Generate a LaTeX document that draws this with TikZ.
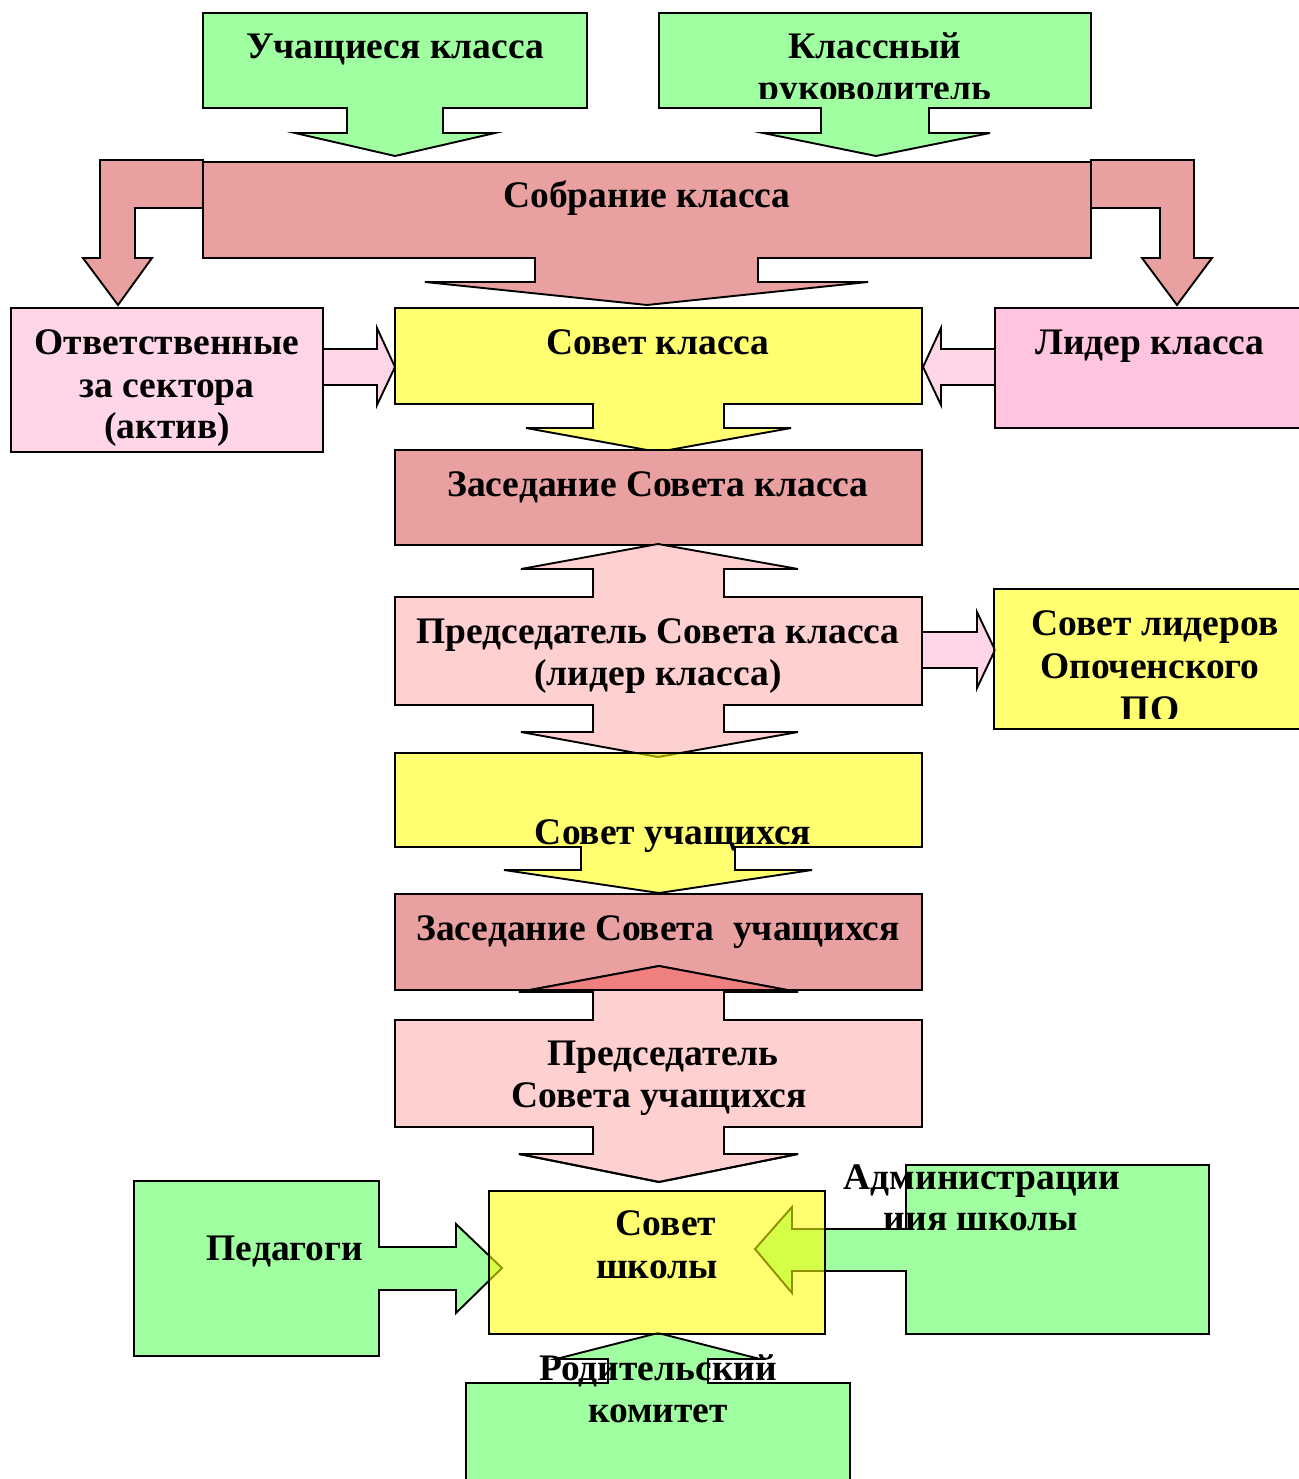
\documentclass[tikz,border=0pt]{standalone}
\usepackage{fontspec}
\setmainfont{Liberation Serif}
\definecolor{cgreen}{RGB}{160,255,160}
\definecolor{cred}{RGB}{233,160,160}
\definecolor{cpink}{RGB}{255,208,208}
\definecolor{clpink}{RGB}{255,214,232}
\definecolor{cmag}{RGB}{255,196,224}
\definecolor{cyel}{RGB}{255,255,0}
\definecolor{cover}{RGB}{240,128,128}
\tikzset{
  shp/.style={draw=black, line width=1.9pt, line join=miter},
  gbox/.style={shp, fill=cgreen},
  rbox/.style={shp, fill=cred},
  pbox/.style={shp, fill=cpink},
  lpbox/.style={shp, fill=clpink},
  mbox/.style={shp, fill=cmag},
  ybox/.style={shp, fill=cyel, fill opacity=0.56},
  txt/.style={anchor=base, inner sep=0pt, font=\bfseries\fontsize{37.5}{42}\selectfont}
}
\begin{document}
\begin{tikzpicture}[x=1pt,y=-1pt]
\useasboundingbox (0,0) rectangle (1298,1479);

% --- top: students and class teacher
\path[gbox] (203,13) -- (587,13) -- (587,108) -- (443,108) -- (443,133) -- (495,133) -- (395,156) -- (295,133) -- (347,133) -- (347,108) -- (203,108) -- cycle;
\path[gbox] (659,13) -- (1091,13) -- (1091,108) -- (929,108) -- (929,133) -- (990,133) -- (876,156) -- (763,133) -- (821,133) -- (821,108) -- (659,108) -- cycle;
\node[txt] (uch) at (395,59) {Учащиеся класса};
\node[txt] (kl1) at (875,59) {Классный};
\begin{scope}
  \clip (659,13) rectangle (1091,98.5);
  \node[txt] (kl2) at (875,101) {руководитель};
\end{scope}

% --- class meeting with bent arrows
\path[rbox] (203,160) -- (100,160) -- (100,258) -- (83,258) -- (118,305) -- (152,258) -- (135,258) -- (135,208) -- (203,208) -- cycle;
\path[rbox] (1091,160) -- (1194,160) -- (1194,258) -- (1212,258) -- (1177,305) -- (1142,258) -- (1160,258) -- (1160,208) -- (1091,208) -- cycle;
\path[rbox] (203,162) -- (1091,162) -- (1091,258) -- (758,258) -- (758,282) -- (868,282) -- (647,305) -- (425,282) -- (535,282) -- (535,258) -- (203,258) -- cycle;
\node[txt] (sobr) at (647,208) {Собрание класса};

% --- class council row
\path[lpbox] (323,349) -- (377,349) -- (377,328) -- (395,367) -- (377,405) -- (377,385) -- (323,385) -- cycle;
\path[lpbox] (11,308) rectangle (323,452);
\node[txt] (otv1) at (167,354) {Ответственные};
\node[txt] (otv2) at (167,397) {за сектора};
\node[txt] (otv3) at (167,438) {(актив)};

\path[lpbox] (995,349) -- (941,349) -- (941,328) -- (923,367) -- (941,405) -- (941,385) -- (995,385) -- cycle;
\path[mbox] (1305,308) -- (995,308) -- (995,428) -- (1305,428);
\node[txt] (lid) at (1150,354) {Лидер класса};

\path[ybox] (395,308) -- (922,308) -- (922,404) -- (724,404) -- (724,428) -- (791,428) -- (658,452) -- (526,428) -- (593,428) -- (593,404) -- (395,404) -- cycle;
\node[txt] (sovk) at (658,354) {Совет класса};

% --- class council meeting
\path[rbox] (395,450) rectangle (922,545);
\node[txt] (zask) at (658,496) {Заседание Совета класса};

% --- chairman of class council
\path[lpbox] (922,632) -- (977,632) -- (977,612) -- (995,650) -- (977,688) -- (977,668) -- (922,668) -- cycle;
\path[pbox] (395,597) -- (593,597) -- (593,569) -- (521,569) -- (658,544) -- (798,569) -- (724,569) -- (724,597) -- (922,597) -- (922,705) -- (724,705) -- (724,732) -- (798,732) -- (658,757) -- (521,732) -- (593,732) -- (593,705) -- (395,705) -- cycle;
\node[txt] (prk1) at (658,643) {Председатель Совета класса};
\node[txt] (prk2) at (658,685) {(лидер класса)};

\path[ybox] (1305,589) -- (994,589) -- (994,729) -- (1305,729);
\node[txt] (sl1) at (1155,635) {Совет лидеров};
\node[txt] (sl2) at (1150,678) {Опоченского};
\begin{scope}
  \clip (994,589) rectangle (1298,718);
  \node[txt] (sl3) at (1150,721) {ПО};
\end{scope}

% --- students' council
\path[ybox] (395,753) -- (922,753) -- (922,847) -- (735,847) -- (735,870) -- (812,870) -- (659,893) -- (504,870) -- (581,870) -- (581,847) -- (395,847) -- cycle;
\node[txt] (sovu) at (673,844) {Совет учащихся};

\path[rbox] (395,894) rectangle (922,990);
\node[txt] (zasu) at (658,940) {Заседание Совета\ \ учащихся};

\def\pru{(395,1020) -- (593,1020) -- (593,992) -- (519,992) -- (659,966) -- (798,992) -- (724,992) -- (724,1020) -- (922,1020) -- (922,1127) -- (724,1127) -- (724,1154) -- (798,1154) -- (659,1182) -- (519,1154) -- (593,1154) -- (593,1127) -- (395,1127) -- cycle}
\path[pbox] \pru;
\begin{scope}
  \clip (395,894) rectangle (922,990);
  \fill[cover] \pru;
\end{scope}
\draw[shp] \pru;
\draw[shp] (395,894) rectangle (922,990);
\node[txt] (pru1) at (663,1065) {Председатель};
\node[txt] (pru2) at (659,1107) {Совета учащихся};

% --- school council
\path[gbox] (134,1181) -- (379,1181) -- (379,1247) -- (456,1247) -- (456,1224) -- (502,1268) -- (456,1313) -- (456,1290) -- (379,1290) -- (379,1356) -- (134,1356) -- cycle;
\path[gbox] (906,1165) -- (1209,1165) -- (1209,1334) -- (906,1334) -- (906,1271) -- (792,1271) -- (792,1293) -- (755,1249) -- (792,1207) -- (792,1229) -- (906,1229) -- cycle;
\path[gbox] (466,1490) -- (466,1383) -- (608,1383) -- (608,1359) -- (556,1359) -- (658,1333) -- (760,1359) -- (708,1359) -- (708,1383) -- (850,1383) -- (850,1490);
\path[ybox] (489,1191) rectangle (825,1334);

\node[txt] (ped) at (285,1260) {Педагоги};
\node[txt] (ss1) at (666,1235) {Совет};
\node[txt] (ss2) at (657,1278) {школы};
\node[txt] (adm1) at (982,1189) {Администрации};
\node[txt] (adm2) at (981,1230) {иия школы};
\node[txt] (rod1) at (658,1380) {Родительский};
\node[txt] (rod2) at (658,1422) {комитет};
\end{tikzpicture}
\end{document}
